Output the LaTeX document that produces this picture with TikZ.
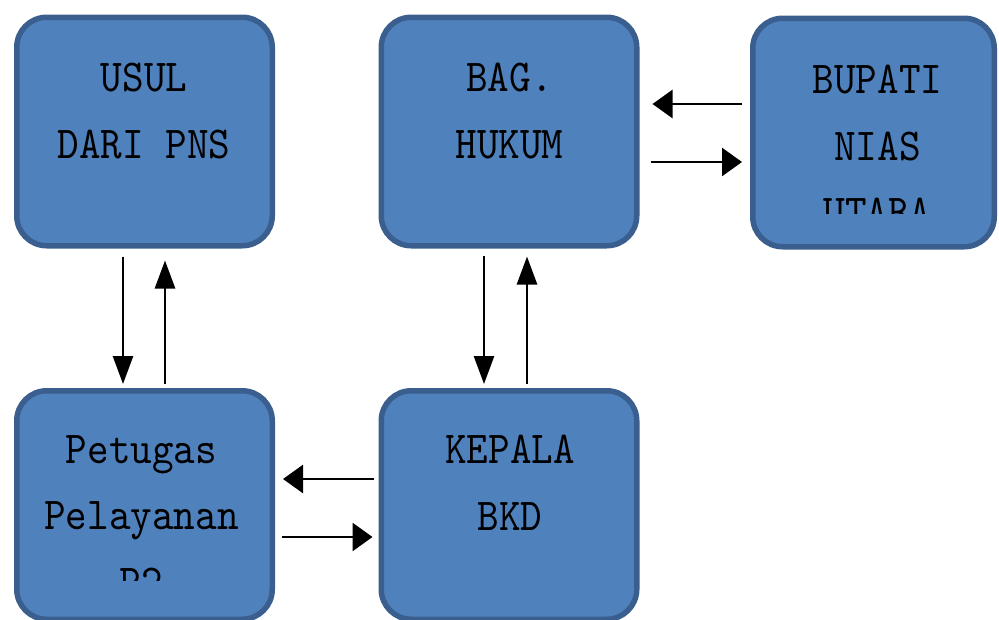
\documentclass[tikz,border=0pt]{standalone}
\usepackage{fontspec}
\setmonofont{lmmono10-regular.otf}[FakeStretch=0.9]
\usetikzlibrary{arrows.meta}
\definecolor{bluefill}{RGB}{79,129,189}
\definecolor{blueline}{RGB}{58,95,142}
\tikzset{
>=Triangle,
blocco/.style={rectangle,rounded corners=0.6cm,draw=blueline,fill=bluefill,line width=0.11cm,minimum width=5.11cm,minimum height=4.57cm},
testo/.style={anchor=north,inner sep=0pt,align=center,font=\ttfamily\fontsize{26}{37.8}\selectfont},
freccia v/.style={-{Triangle[length=0.56cm,width=0.4cm]},line width=1.5pt},
freccia h/.style={-{Triangle[length=0.4cm,width=0.56cm]},line width=1.5pt}}

\begin{document}
\begin{tikzpicture}

\useasboundingbox (0,0) rectangle (19.98,-12.38);
\clip (0,0) rectangle (19.98,-12.38);

\node[blocco] (usul) at (2.89,-2.63) {};
\node[blocco] (hukum) at (10.18,-2.63) {};
\node[blocco,minimum width=4.83cm] (bupati) at (17.47,-2.65) {};
\node[blocco] (petugas) at (2.89,-10.10) {};
\node[blocco] (kepala) at (10.18,-10.10) {};

\node[testo] (usul label) at (2.88,-1.26) {USUL\\DARI PNS};
\node[testo] (hukum label) at (10.19,-1.26) {BAG.\\HUKUM};
\node[testo] (kepala label) at (10.20,-8.70) {KEPALA\\BKD};

% third lines are cut off
\begin{scope}
\clip (15,-0.5) rectangle (20,-4.26);
\node[testo] (bupati label) at (17.55,-1.30) {BUPATI\\NIAS\\UTARA};
\end{scope}
\begin{scope}
\clip (0.5,-8) rectangle (5.4,-11.6);
\node[testo] (petugas label) at (2.83,-8.70) {Petugas\\Pelayanan\\P2};
\end{scope}

\path[freccia v,shorten <=0.16cm,shorten >=0.08cm] ([xshift=-0.43cm]usul.south) edge ([xshift=-0.43cm]petugas.north);
\path[freccia v,shorten <=0.08cm,shorten >=0.24cm] ([xshift=0.41cm]petugas.north) edge ([xshift=0.41cm]usul.south);
\path[freccia v,shorten <=0.14cm,shorten >=0.08cm] ([xshift=-0.50cm]hukum.south) edge ([xshift=-0.50cm]kepala.north);
\path[freccia v,shorten <=0.08cm,shorten >=0.16cm] ([xshift=0.36cm]kepala.north) edge ([xshift=0.36cm]hukum.south);

\path[freccia h,shorten <=0.1cm,shorten >=0.16cm] ([yshift=0.52cm]kepala.west) edge ([yshift=0.52cm]petugas.east);
\path[freccia h,shorten <=0.14cm,shorten >=0.12cm] ([yshift=-0.64cm]petugas.east) edge ([yshift=-0.64cm]kepala.west);
\path[freccia h,shorten <=0.16cm,shorten >=0.26cm] ([yshift=0.55cm]hukum.east -| bupati.west) edge ([yshift=0.55cm]hukum.east);
\path[freccia h,shorten <=0.22cm,shorten >=0.16cm] ([yshift=-0.61cm]hukum.east) edge ([yshift=-0.61cm]hukum.east -| bupati.west);

\end{tikzpicture}
\end{document}
